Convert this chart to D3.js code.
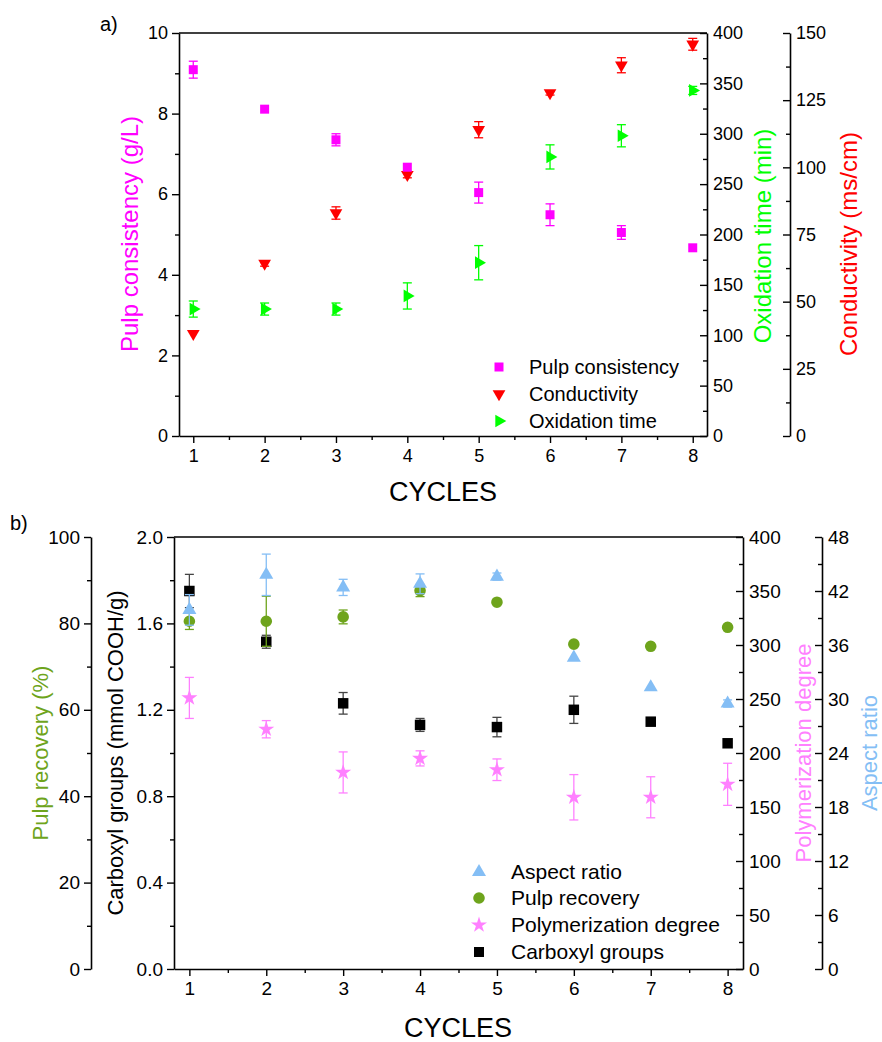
<!DOCTYPE html>
<html>
<head>
<meta charset="utf-8">
<script src="https://cdn.jsdelivr.net/npm/d3@7"></script>
<style>
  body { margin: 0; background: #fff; }
  svg { font-family: "Liberation Sans", Arial, sans-serif; }
</style>
</head>
<body>
<div id="chart"></div>
<script>
// Cycles shared by both panels
const cycles = [1, 2, 3, 4, 5, 6, 7, 8];

// Panel a)
const pulpConsistency = [9.09, 8.11, 7.35, 6.67, 6.04, 5.49, 5.05, 4.67];
const pulpConsistencyErr = [0.21, 0, 0.15, 0, 0.26, 0.27, 0.17, 0];
const conductivity = [38.1, 64.2, 83.0, 97.3, 114.0, 127.7, 138.0, 145.8];
const conductivityErr = [0, 1.0, 2.3, 1.2, 3.0, 0.8, 2.8, 2.2];
const oxidationTime = [126, 126, 126, 139, 172, 277, 298, 343];
const oxidationTimeErr = [8, 6, 6, 13, 17, 12, 11, 4];

// Panel b)
const carboxyl = [1.75, 1.515, 1.23, 1.13, 1.12, 1.20, 1.145, 1.045];
const carboxylErr = [0.077, 0.03, 0.05, 0.03, 0.045, 0.063, 0, 0];
const pulpRecovery = [80.5, 80.5, 81.5, 87.6, 84.9, 75.2, 74.7, 79.1];
const pulpRecoveryErr = [1.9, 5.8, 1.6, 1.4, 0, 0, 0, 0];
const polymerization = [251, 222, 182, 195, 184.5, 159, 159, 171];
const polymerizationErr = [19, 8, 19, 7, 10, 21, 19, 19.5];
const aspectRatio = [39.9, 43.8, 42.4, 42.8, 43.6, 34.6, 31.3, 29.5];
const aspectRatioErr = [1.7, 2.3, 0.9, 1.1, 0.4, 0, 0, 0.4];

// Tick values
const xMinorTicks = [1.5, 2.5, 3.5, 4.5, 5.5, 6.5, 7.5];
const consistencyTicks = [0, 2, 4, 6, 8, 10];
const oxidationTicks = [0, 50, 100, 150, 200, 250, 300, 350, 400];
const conductivityTicks = [0, 25, 50, 75, 100, 125, 150];
const recoveryTicks = [0, 20, 40, 60, 80, 100];
const carboxylTicks = [0, 0.4, 0.8, 1.2, 1.6, 2.0];
const polymerTicks = [0, 50, 100, 150, 200, 250, 300, 350, 400];
const aspectTicks = [0, 6, 12, 18, 24, 30, 36, 42, 48];

const C = {
  magenta: '#ff00ff', red: '#ff0000', green: '#00ff00',
  olive: '#6ea41c', pink: '#ff80ff', blue: '#84bef5', black: '#000'
};

const svg = d3.select('#chart').append('svg')
  .attr('width', 882).attr('height', 1042);

const minorOf = ticks => {
  const out = [];
  for (let i = 0; i < ticks.length - 1; i++) out.push((ticks[i] + ticks[i + 1]) / 2);
  return out;
};

// side: 'left' -> ticks & labels left; 'right' -> ticks point left, labels right
function yAxis(x0, scale, ticks, side, fmt, fontSize) {
  const g = svg.append('g').attr('transform', `translate(${x0},0)`);
  const major = side === 'left'
    ? d3.axisLeft(scale).tickSize(7).tickPadding(4)
    : d3.axisRight(scale).tickSize(-7).tickPadding(6);
  major.tickValues(ticks).tickSizeOuter(0).tickFormat(fmt || d3.format('d'));
  g.call(major);
  const minor = side === 'left' ? d3.axisLeft(scale).tickSize(4) : d3.axisRight(scale).tickSize(-4);
  g.append('g').call(minor.tickValues(minorOf(ticks)).tickFormat('').tickSizeOuter(0))
    .select('.domain').remove();
  styleAxis(g, fontSize);
  return g;
}

function xAxis(y0, scale, fontSize) {
  const g = svg.append('g').attr('transform', `translate(0,${y0})`);
  g.call(d3.axisBottom(scale).tickValues(cycles).tickSize(7).tickPadding(6).tickSizeOuter(0));
  g.append('g').call(d3.axisBottom(scale).tickValues(xMinorTicks).tickSize(4).tickFormat('').tickSizeOuter(0))
    .select('.domain').remove();
  styleAxis(g, fontSize);
}

function styleAxis(g, fontSize) {
  g.selectAll('.domain').attr('stroke', '#000').attr('stroke-width', 1.6);
  g.selectAll('.tick line').attr('stroke', '#000').attr('stroke-width', 1.4);
  g.selectAll('.tick text').attr('fill', '#000').attr('font-size', fontSize)
    .attr('font-family', '"Liberation Sans", Arial, sans-serif');
}

function series(x, y, vals, errs, color, shape, size, rotate) {
  const g = svg.append('g');
  const cap = 4.5;
  cycles.forEach((c, i) => {
    if (!errs[i]) return;
    const cx = x(c), y1 = y(vals[i] + errs[i]), y2 = y(vals[i] - errs[i]);
    const errColor = color === C.black ? '#444' : color;
    g.append('line').attr('x1', cx).attr('x2', cx).attr('y1', y1).attr('y2', y2)
      .attr('stroke', errColor).attr('stroke-width', 1.3);
    [y1, y2].forEach(yy => g.append('line').attr('x1', cx - cap).attr('x2', cx + cap)
      .attr('y1', yy).attr('y2', yy).attr('stroke', errColor).attr('stroke-width', 1.3));
  });
  g.selectAll('path.pt').data(cycles).join('path')
    .attr('class', 'pt')
    .attr('d', d3.symbol().type(shape).size(size))
    .attr('transform', (c, i) => `translate(${x(c)},${y(vals[i])}) rotate(${rotate || 0})`)
    .attr('fill', color);
}

function title(text, x, y, color, fontSize, rotated) {
  svg.append('text')
    .attr('transform', `translate(${x},${y})${rotated ? ' rotate(-90)' : ''}`)
    .attr('text-anchor', 'middle').attr('dy', '0.35em')
    .attr('font-size', fontSize).attr('fill', color).text(text);
}

function legend(x0, xText, rows, items, fontSize) {
  items.forEach((it, i) => {
    svg.append('path').attr('d', d3.symbol().type(it.shape).size(it.size))
      .attr('transform', `translate(${x0},${rows[i]}) rotate(${it.rotate || 0})`)
      .attr('fill', it.color);
    svg.append('text').attr('x', xText).attr('y', rows[i]).attr('dy', '0.35em')
      .attr('font-size', fontSize).attr('fill', '#000').text(it.label);
  });
}

// ---------- Panel a ----------
const A = { left: 179, right: 707, top: 33, bottom: 436 };
const xa = d3.scaleLinear().domain([0.8, 8.2]).range([A.left, A.right]);
const yCons = d3.scaleLinear().domain([0, 10]).range([A.bottom, A.top]);
const yOx = d3.scaleLinear().domain([0, 400]).range([A.bottom, A.top]);
const yCond = d3.scaleLinear().domain([0, 150]).range([A.bottom, A.top]);

svg.append('line').attr('x1', A.left).attr('x2', A.right).attr('y1', A.top).attr('y2', A.top)
  .attr('stroke', '#000').attr('stroke-width', 1.6);
yAxis(A.left, yCons, consistencyTicks, 'left', null, 18);
yAxis(A.right, yOx, oxidationTicks, 'right', null, 18);
yAxis(790, yCond, conductivityTicks, 'right', null, 18);
xAxis(A.bottom, xa, 18);

series(xa, yOx, oxidationTime, oxidationTimeErr, C.green, d3.symbolTriangle, 70, 90);
series(xa, yCond, conductivity, conductivityErr, C.red, d3.symbolTriangle, 70, 180);
series(xa, yCons, pulpConsistency, pulpConsistencyErr, C.magenta, d3.symbolSquare, 81);

legend(499, 529, [367, 394, 421], [
  { label: 'Pulp consistency', color: C.magenta, shape: d3.symbolSquare, size: 81 },
  { label: 'Conductivity', color: C.red, shape: d3.symbolTriangle, size: 70, rotate: 180 },
  { label: 'Oxidation time', color: C.green, shape: d3.symbolTriangle, size: 70, rotate: 90 }
], 20);

title('Pulp consistency (g/L)', 130, 234, C.magenta, 24, true);
title('Oxidation time (min)', 763, 236, C.green, 24, true);
title('Conductivity (ms/cm)', 849, 244, C.red, 24, true);
title('CYCLES', 443, 492, '#000', 27, false);
svg.append('text').attr('x', 100).attr('y', 31).attr('font-size', 20).text('a)');

// ---------- Panel b ----------
const B = { left: 174, right: 743, top: 537, bottom: 969 };
const xb = d3.scaleLinear().domain([0.8, 8.2]).range([B.left, B.right]);
const yRec = d3.scaleLinear().domain([0, 100]).range([B.bottom, B.top]);
const yCarb = d3.scaleLinear().domain([0, 2]).range([B.bottom, B.top]);
const yPoly = d3.scaleLinear().domain([0, 400]).range([B.bottom, B.top]);
const yAsp = d3.scaleLinear().domain([0, 48]).range([B.bottom, B.top]);

svg.append('line').attr('x1', B.left).attr('x2', B.right).attr('y1', B.top).attr('y2', B.top)
  .attr('stroke', '#000').attr('stroke-width', 1.6);
yAxis(91, yRec, recoveryTicks, 'left', null, 19);
yAxis(B.left, yCarb, carboxylTicks, 'left', d3.format('.1f'), 19);
yAxis(B.right, yPoly, polymerTicks, 'right', null, 19);
yAxis(822, yAsp, aspectTicks, 'right', null, 19);
xAxis(B.bottom, xb, 19);

series(xb, yCarb, carboxyl, carboxylErr, C.black, d3.symbolSquare, 110);
series(xb, yPoly, polymerization, polymerizationErr, C.pink, d3.symbolStar, 80);
series(xb, yRec, pulpRecovery, pulpRecoveryErr, C.olive, d3.symbolCircle, 106);
series(xb, yAsp, aspectRatio, aspectRatioErr, C.blue, d3.symbolTriangle, 85);

legend(479, 511, [872, 898, 925, 952], [
  { label: 'Aspect ratio', color: C.blue, shape: d3.symbolTriangle, size: 85 },
  { label: 'Pulp recovery', color: C.olive, shape: d3.symbolCircle, size: 106 },
  { label: 'Polymerization degree', color: C.pink, shape: d3.symbolStar, size: 80 },
  { label: 'Carboxyl groups', color: C.black, shape: d3.symbolSquare, size: 100 }
], 21);

title('Pulp recovery (%)', 40, 753, C.olive, 22, true);
title('Carboxyl groups (mmol COOH/g)', 115, 753, '#000', 22, true);
title('Polymerization degree', 803, 753, C.pink, 22, true);
title('Aspect ratio', 869, 753, C.blue, 22, true);
title('CYCLES', 458, 1028, '#000', 27, false);
svg.append('text').attr('x', 10).attr('y', 530).attr('font-size', 20).text('b)');
</script>
</body>
</html>
